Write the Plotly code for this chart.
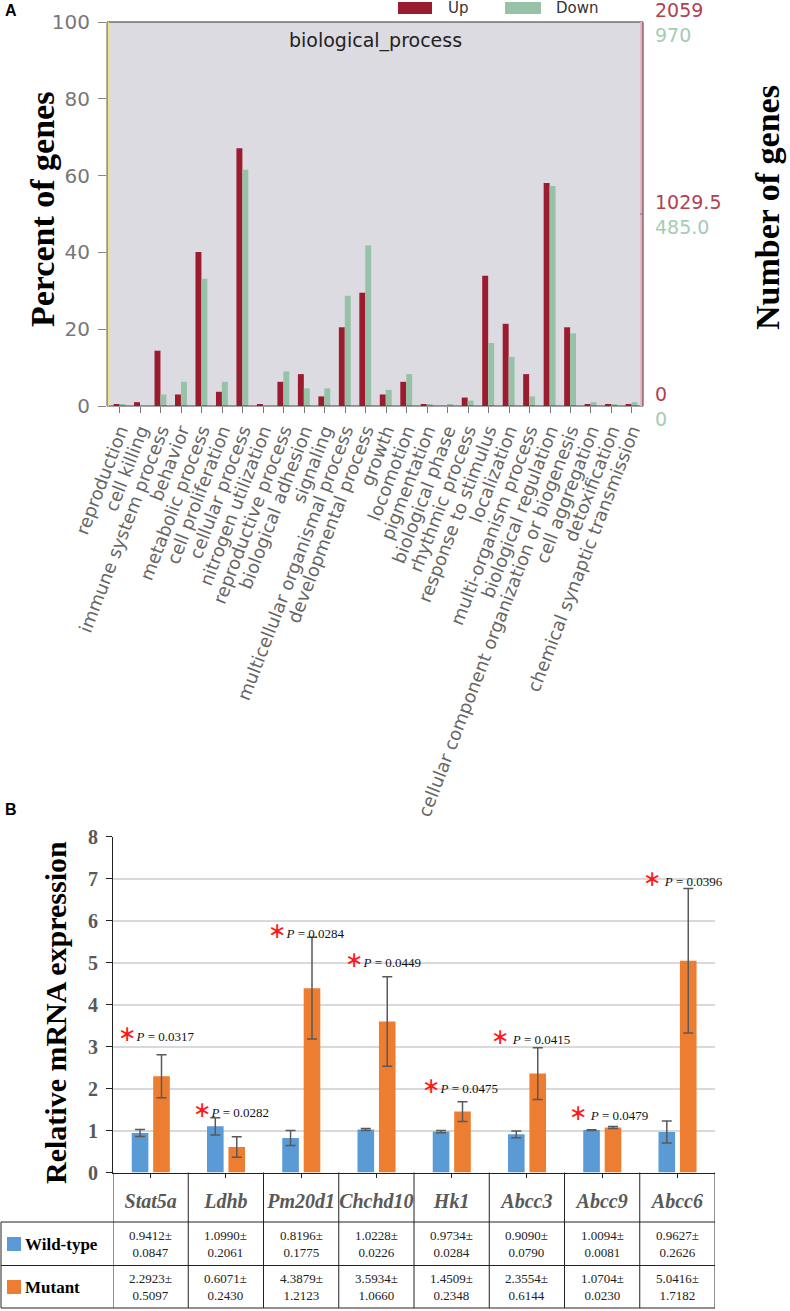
import plotly.graph_objects as go

# ---- panel A: GO biological_process, percent of genes
GO_TERMS = [
    "reproduction", "cell killing", "immune system process", "behavior",
    "metabolic process", "cell proliferation", "cellular process",
    "nitrogen utilization", "reproductive process", "biological adhesion",
    "signaling", "multicellular organismal process", "developmental process",
    "growth", "locomotion", "pigmentation", "biological phase",
    "rhythmic process", "response to stimulus", "localization",
    "multi-organism process", "biological regulation",
    "cellular component organization or biogenesis", "cell aggregation",
    "detoxification", "chemical synaptic transmission",
]
UP_PERCENT = [0.5, 1.0, 14.4, 3.0, 40.1, 3.7, 67.1, 0.5, 6.3, 8.3, 2.5, 20.5, 29.5,
              3.0, 6.3, 0.5, 0.0, 2.2, 33.9, 21.4, 8.3, 58.1, 20.5, 0.5, 0.5, 0.5]
DOWN_PERCENT = [0.4, 0.0, 3.0, 6.3, 33.1, 6.3, 61.5, 0.0, 9.0, 4.6, 4.6, 28.7, 41.8,
                4.2, 8.3, 0.4, 0.4, 1.4, 16.4, 12.8, 2.5, 57.3, 18.9, 1.0, 0.4, 1.0]
UP_TOTAL = 2059
DOWN_TOTAL = 970
COUNT_FRACTIONS = [0, 0.5, 1]

# ---- panel B: qPCR relative mRNA expression
GENES = ["Stat5a", "Ldhb", "Pm20d1", "Chchd10", "Hk1", "Abcc3", "Abcc9", "Abcc6"]
WT_MEAN = [0.9412, 1.0990, 0.8196, 1.0228, 0.9734, 0.9090, 1.0094, 0.9627]
WT_SD = [0.0847, 0.2061, 0.1775, 0.0226, 0.0284, 0.0790, 0.0081, 0.2626]
MUT_MEAN = [2.2923, 0.6071, 4.3879, 3.5934, 1.4509, 2.3554, 1.0704, 5.0416]
MUT_SD = [0.5097, 0.2430, 1.2123, 1.0660, 0.2348, 0.6144, 0.0230, 1.7182]
P_VALUES = ["0.0317", "0.0282", "0.0284", "0.0449", "0.0475", "0.0415", "0.0479", "0.0396"]

W, H = 790, 1311
UP_RED = "#9b1b2f"
DOWN_GREEN = "#97c2a7"
WT_BLUE = "#5b9bd5"
MUT_ORANGE = "#ed7d31"
SANS = "DejaVu Sans"
SERIF = "Liberation Serif"


def fx(p):
    return p / W


def fy(p):
    return 1 - p / H


A_X = [fx(107), fx(643)]
A_Y = [fy(406), fy(22)]
B_X = [fx(113), fx(715)]
B_Y = [fy(1172.5), fy(836.5)]

fig = go.Figure()

# panel A bars
fig.add_trace(go.Bar(x=list(range(len(GO_TERMS))), y=UP_PERCENT, name="Up",
                     marker=dict(color=UP_RED, line=dict(width=0)),
                     width=0.29, offset=-0.31, xaxis="x", yaxis="y", showlegend=False))
fig.add_trace(go.Bar(x=list(range(len(GO_TERMS))), y=DOWN_PERCENT, name="Down",
                     marker=dict(color=DOWN_GREEN, line=dict(width=0)),
                     width=0.29, offset=-0.02, xaxis="x", yaxis="y", showlegend=False))

# panel B bars
err_style = dict(type="data", color="#595959", thickness=1.5, width=5)
fig.add_trace(go.Bar(x=GENES, y=WT_MEAN, name="Wild-type",
                     marker=dict(color=WT_BLUE, line=dict(width=0)),
                     error_y=dict(array=WT_SD, **err_style),
                     width=0.221, offset=-0.251, xaxis="x2", yaxis="y2", showlegend=False))
fig.add_trace(go.Bar(x=GENES, y=MUT_MEAN, name="Mutant",
                     marker=dict(color=MUT_ORANGE, line=dict(width=0)),
                     error_y=dict(array=MUT_SD, **err_style),
                     width=0.221, offset=0.034, xaxis="x2", yaxis="y2", showlegend=False))

fig.update_layout(
    width=W, height=H,
    margin=dict(l=0, r=0, t=0, b=0, autoexpand=False),
    paper_bgcolor="white",
    plot_bgcolor="white",
    showlegend=False,
    font=dict(family=SANS, color="#333"),
    xaxis=dict(domain=A_X, anchor="y", range=[-0.63, 25.54], automargin=False,
               tickvals=list(range(len(GO_TERMS))), ticktext=GO_TERMS,
               tickangle=-69, tickfont=dict(family=SANS, size=18, color="#666"),
               ticks="outside", ticklen=6, tickcolor="#777",
               showline=False, showgrid=False, zeroline=False),
    yaxis=dict(domain=A_Y, anchor="x", range=[0, 100], tickvals=[0, 20, 40, 60, 80, 100],
               automargin=False,
               tickfont=dict(family=SANS, size=20, color="#777"),
               ticks="outside", ticklen=8, tickcolor="#888", ticklabelstandoff=4,
               showline=False, showgrid=False, zeroline=False),
    xaxis2=dict(domain=B_X, anchor="y2", range=[-0.5, 7.5], automargin=False,
                tickvals=GENES, ticktext=[f"<b><i>{g}</i></b>" for g in GENES],
                tickangle=0,
                tickfont=dict(family=SERIF, size=20, color="#595959"),
                ticks="outside", ticklen=4, tickcolor="#222", ticklabelstandoff=6,
                showline=True, linecolor="#222", linewidth=1,
                showgrid=False, zeroline=False),
    yaxis2=dict(domain=B_Y, anchor="x2", range=[0, 8], dtick=1, automargin=False,
                tickfont=dict(family=SERIF, size=20, color="#595959"),
                tickprefix="<b>", ticksuffix="</b>",
                ticks="outside", ticklen=6, tickcolor="#222", ticklabelstandoff=4,
                showline=True, linecolor="#222", linewidth=1,
                showgrid=True, gridcolor="#d9d9d9", gridwidth=1.5, zeroline=False),
)

shapes = []
# panel A plot background and frame
shapes.append(dict(type="rect", xref="paper", yref="paper", layer="below",
                   x0=A_X[0], x1=A_X[1], y0=A_Y[0], y1=A_Y[1],
                   fillcolor="#dcdbe1", line=dict(width=0)))
shapes.append(dict(type="line", xref="paper", yref="paper", x0=A_X[0], x1=A_X[1],
                   y0=A_Y[1], y1=A_Y[1], line=dict(color="#3a3030", width=1)))
shapes.append(dict(type="line", xref="paper", yref="paper", x0=A_X[0], x1=A_X[1],
                   y0=A_Y[0], y1=A_Y[0], line=dict(color="#444", width=1.2)))
shapes.append(dict(type="line", xref="paper", yref="paper", x0=fx(108), x1=fx(108),
                   y0=A_Y[0], y1=A_Y[1], line=dict(color="#f3df7c", width=2)))
shapes.append(dict(type="line", xref="paper", yref="paper", x0=A_X[0], x1=A_X[0],
                   y0=A_Y[0], y1=A_Y[1], line=dict(color="#3a3030", width=0.8)))
shapes.append(dict(type="line", xref="paper", yref="paper", x0=fx(641.5), x1=fx(641.5),
                   y0=A_Y[0], y1=A_Y[1], line=dict(color="#e6b5c2", width=3)))
shapes.append(dict(type="line", xref="paper", yref="paper", x0=A_X[1], x1=A_X[1],
                   y0=A_Y[0], y1=A_Y[1], line=dict(color="#4a3036", width=1)))
shapes.append(dict(type="line", xref="paper", yref="y", x0=A_X[1] - fx(3), x1=A_X[1],
                   y0=50, y1=50, line=dict(color="#777", width=1)))
# panel A legend swatches
shapes.append(dict(type="rect", xref="paper", yref="paper", x0=fx(398), x1=fx(432),
                   y0=fy(14), y1=fy(2), fillcolor=UP_RED, line=dict(width=0)))
shapes.append(dict(type="rect", xref="paper", yref="paper", x0=fx(505), x1=fx(541),
                   y0=fy(14), y1=fy(2), fillcolor=DOWN_GREEN, line=dict(width=0)))

# panel B table grid
for yy in (1222, 1265.5, 1308):
    shapes.append(dict(type="line", xref="paper", yref="paper", x0=fx(1), x1=B_X[1],
                       y0=fy(yy), y1=fy(yy), line=dict(color="#222", width=1)))
shapes.append(dict(type="line", xref="paper", yref="paper", x0=fx(1), x1=fx(1),
                   y0=fy(1222), y1=fy(1308), line=dict(color="#222", width=1)))
for k in range(len(GENES) + 1):
    shapes.append(dict(type="line", xref="x2", yref="paper", x0=k - 0.5, x1=k - 0.5,
                       y0=fy(1172.5), y1=fy(1308), line=dict(color="#222", width=1)))
# table legend swatches
shapes.append(dict(type="rect", xref="paper", yref="paper", x0=fx(7), x1=fx(21),
                   y0=fy(1251), y1=fy(1237), fillcolor=WT_BLUE, line=dict(width=0)))
shapes.append(dict(type="rect", xref="paper", yref="paper", x0=fx(7), x1=fx(21),
                   y0=fy(1294), y1=fy(1280), fillcolor=MUT_ORANGE, line=dict(width=0)))

ann = []
ann.append(dict(text="<b>A</b>", x=fx(3), y=fy(11), xanchor="left", yanchor="middle",
                font=dict(family="Liberation Sans", size=16, color="black")))
ann.append(dict(text="<b>B</b>", x=fx(3), y=fy(809), xanchor="left", yanchor="middle",
                font=dict(family="Liberation Sans", size=16, color="black")))
ann.append(dict(text="Up", x=fx(446), y=fy(8), xanchor="left", yanchor="middle",
                font=dict(family=SANS, size=15, color="#333")))
ann.append(dict(text="Down", x=fx(554), y=fy(8), xanchor="left", yanchor="middle",
                font=dict(family=SANS, size=15, color="#333")))
ann.append(dict(text="biological_process", x=fx(375), y=fy(40), xanchor="center",
                yanchor="middle", font=dict(family=SANS, size=19, color="#222")))
ann.append(dict(text="<b>Percent of genes</b>", x=fx(42), y=fy(210), textangle=-90,
                xanchor="center", yanchor="middle",
                font=dict(family=SERIF, size=34, color="black")))
ann.append(dict(text="<b>Number of genes</b>", x=fx(768), y=fy(208), textangle=-90,
                xanchor="center", yanchor="middle",
                font=dict(family=SERIF, size=34, color="black")))
ann.append(dict(text="<b>Relative mRNA expression</b>", x=fx(56), y=fy(1013),
                textangle=-90, xanchor="center", yanchor="middle",
                font=dict(family=SERIF, size=30, color="black")))
ann.append(dict(text="<b>Wild-type</b>", x=fx(23), y=fy(1244), xanchor="left",
                yanchor="middle", font=dict(family=SERIF, size=17, color="black")))
ann.append(dict(text="<b>Mutant</b>", x=fx(23), y=fy(1287), xanchor="left",
                yanchor="middle", font=dict(family=SERIF, size=17, color="black")))
for a in ann:
    a.update(xref="paper", yref="paper", showarrow=False)

# right-hand gene count scale (Up in red, Down in green), placed on the percent axis
for f in COUNT_FRACTIONS:
    up = f"{UP_TOTAL * f:g}"
    down = f"{DOWN_TOTAL * f:.1f}" if 0 < f < 1 else f"{DOWN_TOTAL * f:g}"
    ann.append(dict(
        text=(f"<span style='color:#b3404f'>{up}</span><br>"
              f"<span style='color:#a6cbb3'>{down}</span>"),
        x=fx(653), xref="paper", y=100 * f, yref="y", yshift=-1,
        showarrow=False, xanchor="left", yanchor="middle", align="left",
        font=dict(family=SANS, size=19)))

# table values
for i, g in enumerate(GENES):
    for mean, sd, yy in ((WT_MEAN[i], WT_SD[i], 1244), (MUT_MEAN[i], MUT_SD[i], 1287)):
        ann.append(dict(text=f"{mean:.4f}±<br>{sd:.4f}", x=g, xref="x2", y=fy(yy),
                        yref="paper", showarrow=False, xanchor="center", yanchor="middle",
                        font=dict(family=SERIF, size=13, color="#222")))

# significance labels: red asterisk followed by the P value
P_LABEL_Y = [3.30, 1.51, 5.77, 5.08, 2.06, 3.23, 1.44, 7.01]
P_START = [-34, -33.5, -34.5, -32, -31, -37, -34, -35]
P_GAP = ["", "", "", "", "", " ", " ", " "]
for i, g in enumerate(GENES):
    ann.append(dict(
        text=(f"<span style='color:#ff1a1a;font-size:22px;font-family:DejaVu Sans'>∗</span>"
              f"{P_GAP[i]}<i>P</i> = {P_VALUES[i]}"),
        x=g, xref="x2", y=P_LABEL_Y[i], yref="y2", xshift=P_START[i],
        showarrow=False, xanchor="left", yanchor="middle", borderpad=0,
        font=dict(family=SERIF, size=13, color="#111")))

fig.update_layout(shapes=shapes, annotations=ann)
# the page body otherwise adds an 8px gutter around the figure
fig.write_html("out.html", config={"displayModeBar": False},
               post_script="document.body.style.margin = '0';")
